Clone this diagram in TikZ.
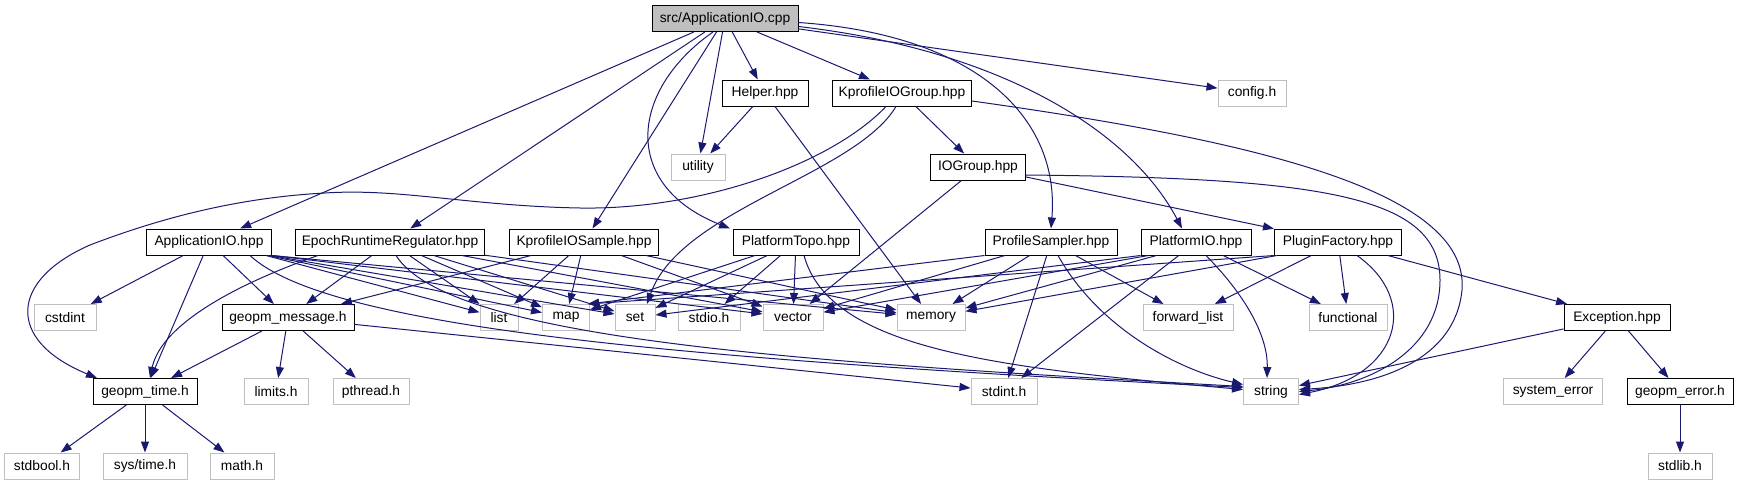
\documentclass[tikz,border=0pt]{standalone}
\usepackage{fontspec}
\setmainfont{Liberation Sans}
\usetikzlibrary{arrows.meta}
\definecolor{edgec}{HTML}{191970}
\definecolor{syscol}{HTML}{BFBFBF}
\definecolor{rootfill}{HTML}{BFBFBF}
\begin{document}
\begin{tikzpicture}[x=1pt,y=-1pt,
  box/.style={rectangle, minimum height=26pt, inner sep=0pt, fill=white, line width=1pt,
    font=\fontsize{13.8}{15}\selectfont},
  doc/.style={box, draw=black},
  sysh/.style={box, draw=syscol},
  rootn/.style={box, draw=black, fill=rootfill},
  e/.style={draw=edgec, line width=1pt, -{Triangle[length=11pt,width=8pt]}}]
\useasboundingbox (0,0) rectangle (1739,485);
% nodes
\node[rootn, minimum width=146pt] (root) at (725,18.5) {src/ApplicationIO.cpp};
\node[doc, minimum width=86pt] (helper) at (765,93) {Helper.hpp};
\node[doc, minimum width=139pt] (kiog) at (902,93) {KprofileIOGroup.hpp};
\node[sysh, minimum width=68pt] (config) at (1252,93) {config.h};
\node[sysh, minimum width=54pt] (utility) at (698,167) {utility};
\node[doc, minimum width=95pt] (iog) at (978,167) {IOGroup.hpp};
\node[doc, minimum width=125pt] (aio) at (209,242) {ApplicationIO.hpp};
\node[doc, minimum width=189pt] (err) at (390,242) {EpochRuntimeRegulator.hpp};
\node[doc, minimum width=149pt] (kios) at (584,242) {KprofileIOSample.hpp};
\node[doc, minimum width=126pt] (ptopo) at (796,242) {PlatformTopo.hpp};
\node[doc, minimum width=132pt] (psamp) at (1051,242) {ProfileSampler.hpp};
\node[doc, minimum width=110pt] (pio) at (1196,242) {PlatformIO.hpp};
\node[doc, minimum width=127pt] (pfac) at (1338,242) {PluginFactory.hpp};
\node[sysh, minimum width=62pt] (cstdint) at (65,317.5) {cstdint};
\node[doc, minimum width=132pt] (gmsg) at (288,317.5) {geopm\_message.h};
\node[sysh, minimum width=38pt] (list) at (499,317.5) {list};
\node[sysh, minimum width=47pt] (map) at (566,317.5) {map};
\node[sysh, minimum width=40pt] (set) at (635,317.5) {set};
\node[sysh, minimum width=62pt] (stdio) at (709,317.5) {stdio.h};
\node[sysh, minimum width=60pt] (vector) at (793,317.5) {vector};
\node[sysh, minimum width=68pt] (memory) at (931,317.5) {memory};
\node[sysh, minimum width=90pt] (fwd) at (1188,317.5) {forward\_list};
\node[sysh, minimum width=78pt] (func) at (1348,317.5) {functional};
\node[doc, minimum width=106pt] (exc) at (1617,317.5) {Exception.hpp};
\node[doc, minimum width=104pt] (gtime) at (145,391.5) {geopm\_time.h};
\node[sysh, minimum width=64pt] (limits) at (276,391.5) {limits.h};
\node[sysh, minimum width=76pt] (pthread) at (371,391.5) {pthread.h};
\node[sysh, minimum width=66pt] (stdint) at (1004,391.5) {stdint.h};
\node[sysh, minimum width=55pt] (string) at (1271,391.5) {string};
\node[sysh, minimum width=99pt] (syserr) at (1553,391.5) {system\_error};
\node[doc, minimum width=106pt] (gerr) at (1680,391.5) {geopm\_error.h};
\node[sysh, minimum width=75pt] (stdbool) at (42,466) {stdbool.h};
\node[sysh, minimum width=84pt] (systime) at (145,466) {sys/time.h};
\node[sysh, minimum width=64pt] (math) at (242,466) {math.h};
\node[sysh, minimum width=64pt] (stdlib) at (1680,466) {stdlib.h};
% root
\draw[e] (root) -- (aio);
\draw[e] (root) -- (err);
\draw[e] (root) -- (kios);
\draw[e] ([xshift=-12pt]root.south) .. controls (630,90) and (620,185) .. ([xshift=-66pt]ptopo.north);
\draw[e] (root) -- (utility);
\draw[e] (root) -- (helper);
\draw[e] (root) -- (kiog);
\draw[e] ([yshift=-4pt]root.east) .. controls (980,35) and (1060,120) .. (psamp.north);
\draw[e] ([yshift=-8pt]root.east) .. controls (1000,50) and (1130,130) .. ([xshift=-14pt]pio.north);
\draw[e] (root) -- (config);
% helper
\draw[e] (helper) -- (utility);
\draw[e] (helper) -- (memory);
% kiog
\draw[e] ([xshift=-16pt]kiog.south) .. controls (830,165) and (700,210) .. (580,208)
  .. controls (470,206) and (400,188) .. (325,193)
  .. controls (230,198) and (150,222) .. (90,245)
  .. controls (10,280) and (5,340) .. ([xshift=-48pt]gtime.north);
\draw[e] ([xshift=-6pt]kiog.south) .. controls (855,175) and (680,210) .. ([xshift=12pt]set.north);
\draw[e] (kiog) -- (iog);
\draw[e] ([yshift=-8pt]kiog.east) .. controls (1250,140) and (1470,190) .. (1462,290)
  .. controls (1455,360) and (1380,385) .. ([yshift=2pt]string.east);
% iog
\draw[e] (iog) -- (pfac);
\draw[e] (iog) -- (vector);
\draw[e] ([yshift=-8pt]iog.east) .. controls (1320,178) and (1440,195) .. (1440,280)
  .. controls (1440,350) and (1370,385) .. (string.east);
% aio
\draw[e] (aio) -- (cstdint);
\draw[e] (aio) -- (gtime);
\draw[e] (aio) -- (gmsg);
\draw[e] ([xshift=-6pt]aio.south east) -- (list);
\draw[e] ([xshift=-4pt]aio.south east) -- (map);
\draw[e] ([xshift=-2pt]aio.south east) -- (set);
\draw[e] (aio.south east) -- (vector);
\draw[e] (aio.south east) -- (memory);
\draw[e] ([xshift=-22pt]aio.south east) .. controls (330,330) and (700,360) .. ([yshift=4pt]string.west);
% err
\draw[e] ([xshift=-72pt]err.south) .. controls (220,290) and (160,330) .. ([xshift=5pt]gtime.north);
\draw[e] (err) -- (gmsg);
\draw[e] (err) -- (list);
\draw[e] (err) -- (map);
\draw[e] (err) -- (set);
\draw[e] (err) -- (vector);
\draw[e] (err) -- (memory);
\draw[e] ([xshift=6pt]err.south) .. controls (450,340) and (800,362) .. ([yshift=5pt]string.west);
% kios
\draw[e] (kios) -- (gmsg);
\draw[e] (kios) -- (list);
\draw[e] (kios) -- (map);
\draw[e] (kios) -- (vector);
\draw[e] (kios) -- (memory);
% ptopo
\draw[e] (ptopo) -- (map);
\draw[e] (ptopo) -- (set);
\draw[e] (ptopo) -- (stdio);
\draw[e] (ptopo) -- (vector);
\draw[e] ([xshift=8pt]ptopo.south) .. controls (830,350) and (1000,368) .. ([yshift=2pt]string.west);
% psamp
\draw[e] (psamp.south west) -- ([xshift=-2pt]map.north east);
\draw[e] (psamp) -- (vector);
\draw[e] (psamp) -- (memory);
\draw[e] (psamp) -- (stdint);
\draw[e] (psamp) -- (fwd);
\draw[e] ([xshift=7pt]psamp.south) .. controls (1100,330) and (1180,370) .. ([yshift=7pt]string.west);
% pio
\draw[e] (pio.south west) -- (set);
\draw[e] ([xshift=8pt]pio.south west) -- (vector);
\draw[e] ([xshift=16pt]pio.south west) -- (memory);
\draw[e] (pio) -- (stdint);
\draw[e] (pio) -- (func);
\draw[e] ([xshift=10pt]pio.south) .. controls (1250,300) and (1268,340) .. ([xshift=-4pt]string.north);
% pfac
\draw[e] (pfac.south west) -- ([xshift=-2pt]map.north east);
\draw[e] ([xshift=3pt]pfac.south west) -- (memory);
\draw[e] (pfac) -- (fwd);
\draw[e] (pfac) -- (func);
\draw[e] ([xshift=19pt]pfac.south) .. controls (1420,300) and (1400,375) .. ([yshift=-3pt]string.east);
\draw[e] (pfac) -- (exc);
% exc
\draw[e] (exc) -- (string);
\draw[e] (exc) -- (syserr);
\draw[e] (exc) -- (gerr);
\draw[e] (gerr) -- (stdlib);
% gmsg
\draw[e] (gmsg) -- (gtime);
\draw[e] (gmsg) -- (limits);
\draw[e] (gmsg) -- (pthread);
\draw[e] (gmsg) -- (stdint);
% gtime
\draw[e] (gtime) -- (stdbool);
\draw[e] (gtime) -- (systime);
\draw[e] (gtime) -- (math);
\end{tikzpicture}
\end{document}
